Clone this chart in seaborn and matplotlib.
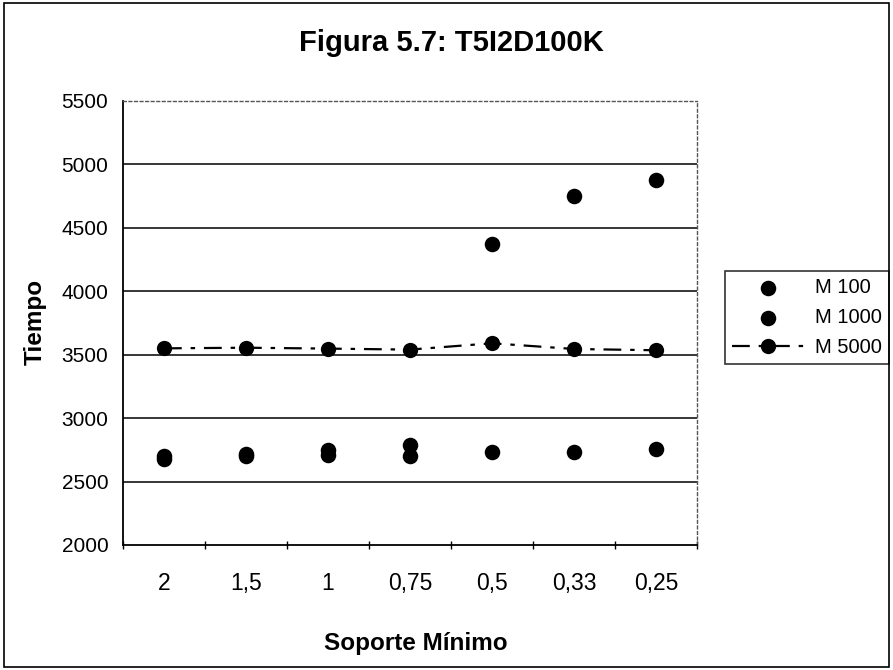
import matplotlib
matplotlib.use("Agg")
import matplotlib.pyplot as plt
import seaborn as sns
import pandas as pd
from matplotlib.patches import Rectangle

# Minimum support values (x categories) and runtimes per series
soporte = ["2", "1,5", "1", "0,75", "0,5", "0,33", "0,25"]
m100 = [2700, 2715, 2745, 2785, 4375, 4750, 4880]
m1000 = [2675, 2700, 2710, 2705, 2730, 2730, 2755]
m5000 = [3550, 3555, 3548, 3540, 3590, 3545, 3535]
y_ticks = [2000, 2500, 3000, 3500, 4000, 4500, 5000, 5500]

sns.set_theme(style="white")
plt.rcParams["font.family"] = ["Liberation Sans", "DejaVu Sans"]
plt.rcParams.update({"text.color": "black", "axes.labelcolor": "black",
                     "xtick.color": "black", "ytick.color": "black"})

idx = list(range(len(soporte)))
df = pd.DataFrame({"pos": idx, "M 100": m100, "M 1000": m1000, "M 5000": m5000})

fig = plt.figure(figsize=(8.93, 6.70), dpi=100)
ax = fig.add_axes([0.1377, 0.1866, 0.6428, 0.6627])

sns.scatterplot(data=df, x="pos", y="M 100", ax=ax, color="black", s=125,
                edgecolor="black", linewidth=0, label="M 100", zorder=4)
sns.scatterplot(data=df, x="pos", y="M 1000", ax=ax, color="black", s=125,
                edgecolor="black", linewidth=0, label="M 1000", zorder=4)
sns.lineplot(data=df, x="pos", y="M 5000", ax=ax, color="black", marker="o",
             markersize=11, markeredgewidth=0, linewidth=1.6,
             dashes=False, label="M 5000", zorder=3)
ax.lines[-1].set_dashes([8, 4, 2, 4])

ax.set_xlim(-0.5, len(soporte) - 0.5)
ax.set_ylim(2000, 5500)
ax.set_yticks(y_ticks)
ax.set_yticklabels([str(v) for v in y_ticks], fontsize=15, color="black")
ax.set_xticks(idx)
ax.set_xticklabels(soporte, fontsize=16.5, color="black")
ax.tick_params(axis="x", length=0, pad=19.5)
ax.tick_params(axis="y", length=5, direction="inout", width=1, color="black", pad=8)

# category boundary ticks on the x axis
ax.set_xticks([i - 0.5 for i in range(len(soporte) + 1)], minor=True)
ax.tick_params(axis="x", which="minor", length=6, direction="inout", width=1,
               color="black", bottom=True)

for v in y_ticks[1:-1]:
    ax.axhline(v, color="black", linewidth=1.1, zorder=1)

for side in ["left", "bottom"]:
    ax.spines[side].set_color("black")
    ax.spines[side].set_linewidth(1.3)
for side in ["top", "right"]:
    ax.spines[side].set_color("#555555")
    ax.spines[side].set_linewidth(1.0)
    ax.spines[side].set_linestyle((0, (2, 2)))

ax.set_xlabel("Soporte Mínimo", fontsize=17.5, fontweight="bold", color="black")
ax.set_ylabel("Tiempo", fontsize=17.5, fontweight="bold", color="black")
ax.xaxis.set_label_coords(0.51, -0.195)
ax.yaxis.set_label_coords(-0.132, 0.502)
fig.suptitle("Figura 5.7: T5I2D100K", fontsize=21, fontweight="bold",
             x=0.506, y=0.957, color="black")

leg = ax.legend(loc="center left", bbox_to_anchor=(1.035, 0.512), frameon=True,
                fontsize=14.5, fancybox=False, edgecolor="black",
                handlelength=3.6, handletextpad=0.5, borderpad=0.35,
                labelspacing=0.55, borderaxespad=0.4)
leg.get_frame().set_linewidth(1.2)
for t in leg.get_texts():
    t.set_color("black")

# outer frame around the whole chart
fig.patches.append(Rectangle((0.004, 0.004), 0.992, 0.992, transform=fig.transFigure,
                             fill=False, edgecolor="black", linewidth=1.2))

fig.savefig("out.png", dpi=100)
